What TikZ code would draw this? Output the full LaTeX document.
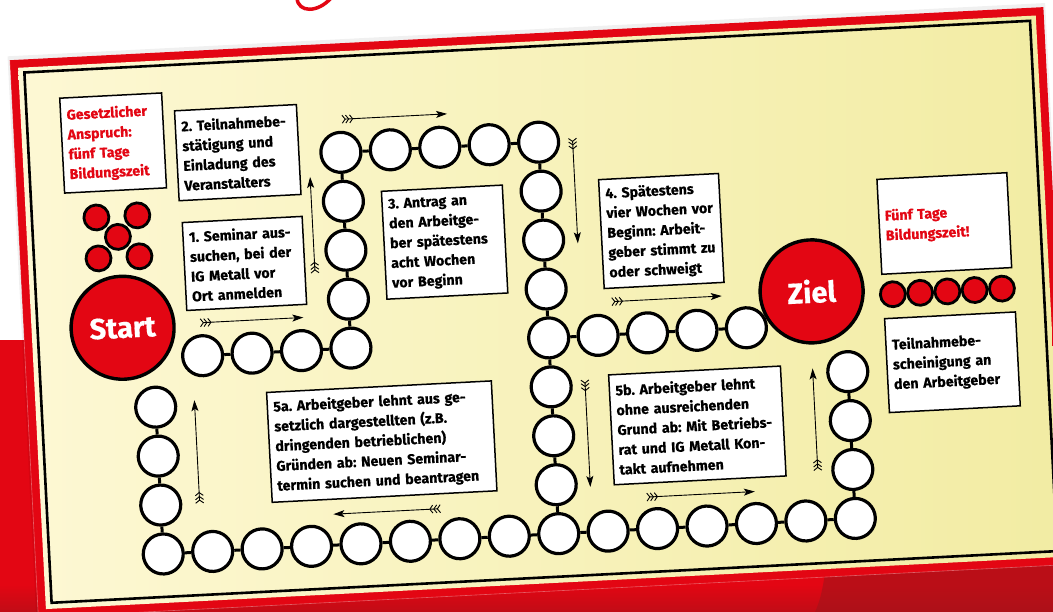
\documentclass[tikz,border=0pt]{standalone}
\usepackage{fontspec}
\setmainfont{Fira Sans}[BoldFeatures={FakeBold=0.5}]
\usetikzlibrary{arrows.meta}

\definecolor{igrot}{RGB}{227,6,19}
\definecolor{igrotdunkel}{RGB}{160,20,26}
\definecolor{brettlinks}{RGB}{253,248,212}
\definecolor{brettrechts}{RGB}{242,236,163}
\frenchspacing

\begin{document}
\begin{tikzpicture}[x=1pt,y=-1pt,
  feld/.style={circle,draw,line width=3.2pt,fill=white,minimum size=40pt,inner sep=0pt},
  punkt/.style={circle,draw,line width=2.8pt,fill=igrot,minimum size=25pt,inner sep=0pt},
  ziel/.style={circle,draw,line width=3.4pt,fill=igrot,text=white,minimum size=103pt,inner sep=0pt,
    font=\bfseries\fontsize{29}{29}\selectfont},
  kasten/.style={draw,line width=1.5pt,fill=white,align=left,inner sep=6pt,
    font=\bfseries\fontsize{14.2}{19.8}\selectfont},
  verbinder/.style={line width=3pt},
  pfeil/.style={line width=0.9pt,
    {Straight Barb[reversed,length=3pt,width=8pt,sep=-0.5pt]Straight Barb[reversed,length=3pt,width=8pt,sep=-0.5pt]Straight Barb[reversed,length=3pt,width=8pt]}-{Stealth[length=11pt,width=7pt,inset=2.5pt]}}]
 \useasboundingbox (0,0) rectangle (1053,612);
 % Hintergrund
 \fill[white] (0,0) rectangle (1053,612);
 \fill[igrot] (0,340) rectangle (1053,612);
 \shade[top color=igrot,bottom color=igrotdunkel,opacity=.5] (0,585) rectangle (1053,612);
 \fill[igrotdunkel,opacity=.6] (815,612) .. controls (825,590) and (822,575) .. (830,562) -- (1053,552) -- (1053,612) -- cycle;
 \draw[igrot,line width=3.5pt,line cap=round] (297,-2) .. controls (298,13) and (318,13) .. (331,-2);

 \begin{scope}[shift={(527,306)},rotate=2.94,transform shape]
 % Spielbrett
 \fill[black,opacity=.06] (-506,-276) rectangle (533,286);
 \fill[igrot] (-504,-272) rectangle (531,286);
 \draw[white,opacity=.35,line width=.6pt] (-504,-272) -- (-504,286) -- (531,286);
 \shade[left color=brettlinks,right color=brettrechts] (-496,-264) rectangle (523,278);
 \draw[line width=2.6pt] (-490,-259) rectangle (517,272);

 % Kaesten
 \node[kasten,text=igrot,text width=90pt,minimum height=95pt] (anspruch) at (-405,-184) {Gesetzlicher\\Anspruch:\\fünf Tage\\Bildungszeit};
 \node[kasten,text width=110pt,minimum height=90pt] (schritt2) at (-281,-168) {2. Teilnahmebe-\\stätigung und\\Einladung des\\Veranstalters};
 \node[kasten,text width=108pt,minimum height=88pt] (schritt1) at (-280,-57) {1. Seminar aus-\\suchen, bei der\\IG Metall vor\\Ort anmelden};
 \node[kasten,text width=109pt,minimum height=108pt] (schritt3) at (-79,-68) {3. Antrag an\\den Arbeitge-\\ber spätestens\\acht Wochen\\vor Beginn};
 \node[kasten,text width=108pt,minimum height=109pt] (schritt4) at (138,-68) {4. Spätestens\\vier Wochen vor\\Beginn: Arbeit-\\geber stimmt zu\\oder schweigt};
 \node[kasten,text width=213pt,minimum height=110pt] (schritt5a) at (-152,128) {5a. Arbeitgeber lehnt aus ge-\\setzlich dargestellten (z.B.\\dringenden betrieblichen)\\Gründen ab: Neuen Seminar-\\termin suchen und beantragen};
 \node[kasten,text width=160pt,minimum height=110pt] (schritt5b) at (164,128) {5b. Arbeitgeber lehnt\\ohne ausreichenden\\Grund ab: Mit Betriebs-\\rat und IG Metall Kon-\\takt aufnehmen};
 \node[kasten,text=igrot,text width=118pt,minimum height=95pt] (bildungszeit) at (421,-61) {Fünf Tage\\Bildungszeit!};
 \node[kasten,text width=119pt,minimum height=94pt] (bescheinigung) at (422,78) {Teilnahmebe-\\scheinigung an\\den Arbeitgeber};

 % rote Punkte
 \foreach \dx/\dy [count=\n] in {-20.5/-20.5,20.5/-20.5,-20.5/20.5,20.5/20.5,0/0}
   \node[punkt] (p\n) at ({-405+\dx},{-90+\dy}) {};
 \foreach \n in {0,...,4}
   \node[punkt] (q\n) at ({366+27.3*\n},7) {};

 % Felder
 \foreach \i/\j in {1/4,2/4,3/4,4/4,4/3,4/2,4/1,4/0,5/0,6/0,7/0,
                    8/0,8/1,8/2,8/3,8/4,8/5,8/6,8/7,8/8,9/4,10/4,11/4,12/4,
                    0/8,1/8,2/8,3/8,4/8,5/8,6/8,7/8,0/7,0/6,0/5,
                    9/8,10/8,11/8,12/8,13/8,14/8,14/7,14/6,14/5}
   \node[feld] (f\i-\j) at ({20+49.5*(\i-8)},{33+49*(\j-4)}) {};
 \draw[verbinder] (f1-4) -- (f2-4) -- (f3-4) -- (f4-4) -- (f4-3) -- (f4-2) -- (f4-1) -- (f4-0)
   -- (f5-0) -- (f6-0) -- (f7-0) -- (f8-0) -- (f8-1) -- (f8-2) -- (f8-3) -- (f8-4)
   -- (f8-5) -- (f8-6) -- (f8-7) -- (f8-8);
 \draw[verbinder] (f8-4) -- (f9-4) -- (f10-4) -- (f11-4) -- (f12-4);
 \draw[verbinder] (f8-8) -- (f7-8) -- (f6-8) -- (f5-8) -- (f4-8) -- (f3-8) -- (f2-8) -- (f1-8)
   -- (f0-8) -- (f0-7) -- (f0-6) -- (f0-5);
 \draw[verbinder] (f8-8) -- (f9-8) -- (f10-8) -- (f11-8) -- (f12-8) -- (f13-8) -- (f14-8)
   -- (f14-7) -- (f14-6) -- (f14-5);

 \node[ziel] (start) at (-405,1) {Start};
 \node[ziel] (ende) at (285,0) {Ziel};

 % Richtungspfeile
 \draw[pfeil] (-327,0) -- (-224,0);
 \draw[pfeil] (-210,-44) -- (-210,-140);
 \draw[pfeil] (-175,-196) -- (-70,-196);
 \draw[pfeil] (54,-165) -- (54,-60);
 \draw[pfeil] (85,0) -- (195,0);
 \draw[pfeil] (54,77) -- (54,184);
 \draw[pfeil] (110,197) -- (218,197);
 \draw[pfeil] (282,179) -- (282,77);
 \draw[pfeil] (-97,198) -- (-204,198);
 \draw[pfeil] (-337,180) -- (-337,77);
 \end{scope}
\end{tikzpicture}
\end{document}
